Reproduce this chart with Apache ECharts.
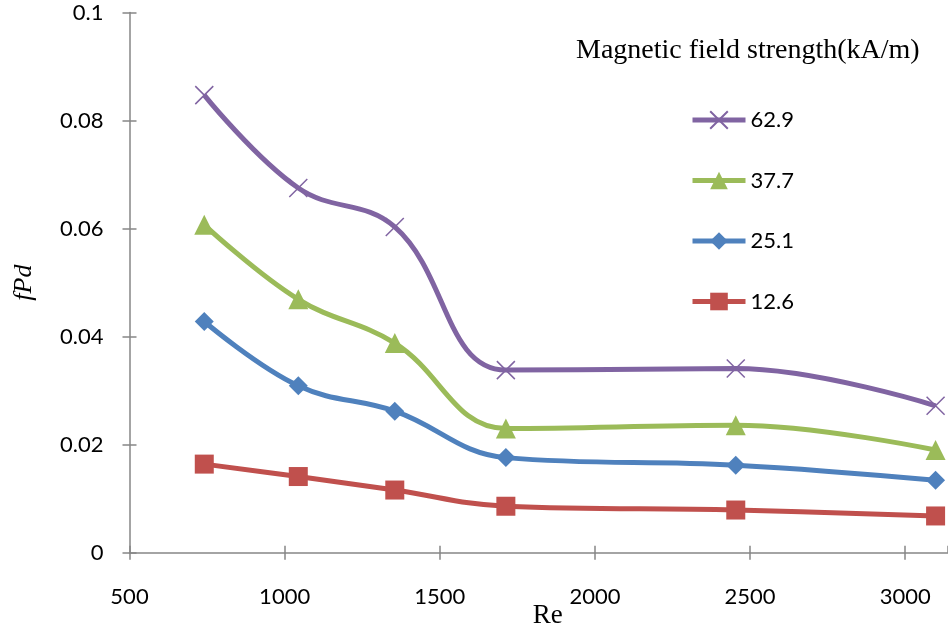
<!DOCTYPE html>
<html>
<head>
<meta charset="utf-8">
<script src="https://cdn.jsdelivr.net/npm/echarts@6/dist/echarts.min.js"></script>
<style>
  html, body { margin: 0; padding: 0; background: #fff; }
  #chart { width: 948px; height: 632px; }
</style>
</head>
<body>
<div id="chart"></div>
<script>
// Re values (x) shared by all series
const re = [741, 1044, 1355, 1713, 2454, 3098];
// fPd per magnetic field strength (kA/m)
const h629 = [0.0847, 0.0675, 0.0603, 0.0338, 0.0341, 0.0272];
const h377 = [0.0607, 0.0469, 0.0388, 0.0230, 0.0236, 0.0190];
const h251 = [0.0428, 0.0309, 0.0262, 0.0176, 0.0162, 0.0134];
const h126 = [0.0164, 0.0141, 0.0116, 0.0086, 0.0079, 0.0068];
const legendNames = ["62.9", "37.7", "25.1", "12.6"];

const axisGray = "#868686";
const labelFont = "Lato";

var myChart = echarts.init(document.getElementById("chart"));

const pairs = (ys) => re.map((x, i) => [x, ys[i]]);

const mkSeries = (name, ys, color, symbol, size, extra) => ({
  name: name,
  type: "line",
  data: pairs(ys),
  smooth: 0.4,
  symbol: symbol,
  symbolSize: size,
  showAllSymbol: true,
  lineStyle: { color: color, width: 5 },
  itemStyle: Object.assign({ color: color }, extra || {}),
  z: 3,
});

// x and y axis shared settings (range, ticks)
const xBase = { type: "value", min: 500, max: 3138, interval: 500 };
const yBase = { type: "value", min: 0, max: 0.1, interval: 0.02 };

myChart.setOption({
  animation: false,
  grid: {
    left: 129.5,
    right: 0,
    top: 12.5,
    bottom: 79.3,
    containLabel: false,
    outerBoundsMode: "none",
  },
  title: {
    text: "Magnetic field strength(kA/m)",
    left: 571,
    top: 32,
    textStyle: {
      fontFamily: "Liberation Serif",
      fontWeight: "normal",
      fontSize: 28,
      color: "#000",
    },
  },
  legend: {
    data: legendNames,
    orient: "vertical",
    left: 685,
    top: 104,
    itemWidth: 53,
    itemHeight: 22,
    itemGap: 38.5,
    lineStyle: { width: 5 },
    textStyle: { fontFamily: labelFont, fontSize: 22, color: "#000" },
  },
  xAxis: [
    Object.assign({}, xBase, {
      name: "Re",
      nameLocation: "middle",
      nameGap: 50,
      nameMoveOverlap: false,
      nameTextStyle: {
        fontFamily: "Liberation Serif",
        fontSize: 27,
        color: "#000",
        padding: [0, 0, 0, 18],
      },
      axisLine: { lineStyle: { color: axisGray, width: 1.5 } },
      axisTick: { length: 7, lineStyle: { color: axisGray, width: 1.5 } },
      axisLabel: {
        showMaxLabel: false,
        margin: 33,
        fontFamily: labelFont,
        fontSize: 22,
        color: "#000",
        formatter: (v) => String(v),
      },
      splitLine: { show: false },
    }),
    // overlay axis: inside half of the crossing ticks
    Object.assign({}, xBase, {
      position: "bottom",
      axisLine: { show: false },
      axisTick: { inside: true, length: 7, lineStyle: { color: axisGray, width: 1.5 } },
      axisLabel: { show: false },
      splitLine: { show: false },
    }),
  ],
  yAxis: [
    Object.assign({}, yBase, {
      name: "fPd",
      nameLocation: "middle",
      nameGap: 92,
      nameMoveOverlap: false,
      nameTextStyle: {
        fontFamily: "Liberation Serif",
        fontStyle: "italic",
        fontSize: 26,
        color: "#000",
      },
      axisLine: { show: true, lineStyle: { color: axisGray, width: 1.5 } },
      axisTick: { show: true, length: 7, lineStyle: { color: axisGray, width: 1.5 } },
      axisLabel: { margin: 26, fontFamily: labelFont, fontSize: 22, color: "#000" },
      splitLine: { show: false },
    }),
    Object.assign({}, yBase, {
      position: "left",
      axisLine: { show: false },
      axisTick: { show: true, inside: true, length: 7, lineStyle: { color: axisGray, width: 1.5 } },
      axisLabel: { show: false },
      splitLine: { show: false },
    }),
  ],
  series: [
    mkSeries("12.6", h126, "#C0504D", "rect", 19),
    mkSeries("25.1", h251, "#4F81BD", "diamond", 19),
    mkSeries("37.7", h377, "#9BBB59", "triangle", 20),
    mkSeries("62.9", h629, "#8064A2", "path://M0,0L10,10M10,0L0,10", 18, {
      borderColor: "#8064A2",
      borderWidth: 1.5,
    }),
  ],
});
</script>
</body>
</html>
